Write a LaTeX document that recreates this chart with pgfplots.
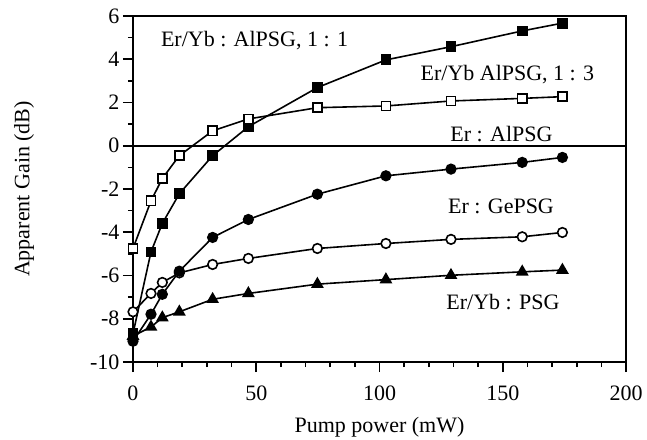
\documentclass[border=0pt]{standalone}
\usepackage{fontspec}
\setmainfont{Liberation Serif}
\usepackage{pgfplots}
\pgfplotsset{compat=1.18}

\newcommand{\bigfont}{\fontsize{22bp}{26bp}\selectfont}

\begin{document}
\begin{tikzpicture}
\begin{axis}[
  name=ax,
  scale only axis,
  width=493bp, height=346bp,
  xmin=0, xmax=200, ymin=-10, ymax=6,
  xtick={0,50,100,150,200},
  xticklabels={0,50,100,150,200},
  ytick={-10,-8,-6,-4,-2,0,2,4,6},
  yticklabels={-10,-8,-6,-4,-2,0,2,4,6},
  minor x tick num=4, minor y tick num=1,
  xtick pos=bottom, ytick pos=left,
  tick align=outside,
  major tick length=10bp, minor tick length=5bp,
  axis line style={line width=2bp},
  every tick/.style={black, line width=1.6bp},
  tick label style={font=\bigfont},
  x tick label style={yshift=-10bp},
  xlabel={Pump power (mW)},
  ylabel={Apparent Gain (dB)},
  every axis x label/.style={at={(axis description cs:0.5,-0.1879)}, anchor=center, font=\bigfont},
  every axis y label/.style={at={(axis description cs:-0.2211,0.5)}, anchor=center, rotate=90, font=\bigfont},
  clip=false,
  every axis plot/.append style={black, line width=1.6bp},
  mark options={solid, line width=1.4bp},
]

% zero-gain reference line
\addplot[no marks, line width=1.8bp] coordinates {(0,0) (200,0)};

% Er/Yb : AlPSG, 1:1
\addplot[mark=square*, mark size=4.6bp, mark options={fill=black}] coordinates {
  (0,-8.69) (7.3,-4.91) (11.9,-3.59) (18.8,-2.22) (32.3,-0.46) (46.8,0.88)
  (74.8,2.69) (102.6,3.97) (129,4.58) (157.9,5.31) (174.2,5.67)};

% Er/Yb AlPSG, 1:3
\addplot[mark=square*, mark size=4.6bp, mark options={fill=white}] coordinates {
  (0,-4.75) (7.3,-2.55) (11.9,-1.51) (18.8,-0.46) (32.3,0.69) (46.8,1.24)
  (74.8,1.76) (102.6,1.84) (129,2.07) (157.9,2.19) (174.2,2.27)};

% Er : GePSG
\addplot[mark=*, mark size=4.8bp, mark options={fill=white}] coordinates {
  (0,-7.68) (7.3,-6.83) (11.9,-6.32) (18.8,-5.88) (32.3,-5.49) (46.8,-5.21)
  (74.8,-4.75) (102.6,-4.52) (129,-4.33) (157.9,-4.21) (174.2,-4.01)};

% Er/Yb : PSG
\addplot[mark=triangle*, mark size=5.8bp, mark options={fill=black}] coordinates {
  (0,-8.8) (7.3,-8.38) (11.9,-7.95) (18.8,-7.68) (32.3,-7.10) (46.8,-6.83)
  (74.8,-6.40) (102.6,-6.19) (129,-5.99) (157.9,-5.83) (174.2,-5.75)};

% Er : AlPSG
\addplot[mark=*, mark size=4.8bp, mark options={fill=black}] coordinates {
  (0,-9.04) (7.3,-7.79) (11.9,-6.87) (18.8,-5.80) (32.3,-4.24) (46.8,-3.41)
  (74.8,-2.24) (102.6,-1.39) (129,-1.08) (157.9,-0.77) (174.2,-0.54)};

\node[font=\bigfont] at (axis cs:49.3,4.85) {Er/Yb : AlPSG, 1 : 1};
\node[font=\bigfont] at (axis cs:151.9,3.27) {Er/Yb AlPSG, 1 : 3};
\node[font=\bigfont] at (axis cs:149.5,0.54) {Er : AlPSG};
\node[font=\bigfont] at (axis cs:149.3,-2.79) {Er : GePSG};
\node[font=\bigfont] at (axis cs:150.1,-7.24) {Er/Yb : PSG};
\end{axis}
\pgfresetboundingbox
\path[use as bounding box] ([xshift=-133bp,yshift=-78bp]ax.south west)
  rectangle ([xshift=21bp,yshift=16bp]ax.north east);
\end{tikzpicture}
\end{document}
